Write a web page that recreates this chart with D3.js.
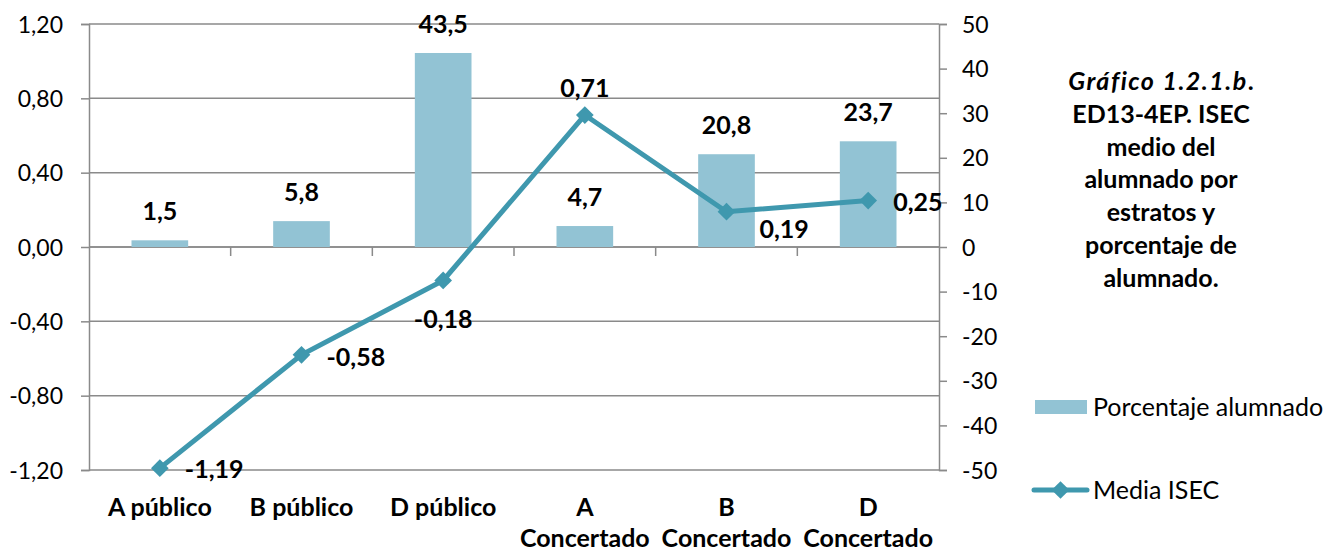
<!DOCTYPE html>
<html>
<head>
<meta charset="utf-8">
<script src="https://cdn.jsdelivr.net/npm/d3@7"></script>
<style>
  body { margin: 0; background: #fff; }
  svg { font-family: Lato, "Open Sans", sans-serif; }
</style>
</head>
<body>
<svg id="chart" width="1341" height="551"></svg>
<script>
// categories and series
const categories = ["A público", "B público", "D público", "A Concertado", "B Concertado", "D Concertado"];
const cat_lines = [["A público"], ["B público"], ["D público"], ["A", "Concertado"], ["B", "Concertado"], ["D", "Concertado"]];
const porcentaje = [1.5, 5.8, 43.5, 4.7, 20.8, 23.7];
const media_isec = [-1.19, -0.58, -0.18, 0.71, 0.19, 0.25];
const left_ticks = [-1.2, -0.8, -0.4, 0, 0.4, 0.8, 1.2];
const right_ticks = [-50, -40, -30, -20, -10, 0, 10, 20, 30, 40, 50];
const title_lines = ["ED13-4EP. ISEC", "medio del", "alumnado por", "estratos y", "porcentaje de", "alumnado."];

const bar_color = "#92c3d4";
const line_color = "#3f98ae";
const grid_color = "#8a8a8a";

const svg = d3.select("#chart");
const margins = {top: 24, bottom: 81, left: 89, right: 402};
const width = 1341, height = 551;
const chart_width = width - margins.left - margins.right;
const chart_height = height - margins.top - margins.bottom;

const chart = svg.append("g")
  .attr("transform", `translate(${margins.left}, ${margins.top})`);

const x_scale = d3.scaleBand()
  .domain(categories)
  .range([0, chart_width]);

const y_left = d3.scaleLinear()
  .domain([-1.2, 1.2])
  .range([chart_height, 0]);

const y_right = d3.scaleLinear()
  .domain([-50, 50])
  .range([chart_height, 0]);

// spanish style numbers: comma decimal, plain hyphen minus
const es = (v, digits) => v.toFixed(digits).replace(".", ",");

const mid = (i) => x_scale(categories[i]) + x_scale.bandwidth() / 2;

// gridlines (left axis)
chart.append("g")
  .selectAll("line")
  .data(left_ticks)
  .enter()
  .append("line")
  .attr("x1", 0)
  .attr("x2", chart_width)
  .attr("y1", d => y_left(d))
  .attr("y2", d => y_left(d))
  .style("stroke", grid_color)
  .style("stroke-width", 1.5);

// left axis
const left_axis = chart.append("g")
  .call(d3.axisLeft(y_left).tickValues(left_ticks).tickSize(8).tickPadding(18)
    .tickFormat(d => es(d, 2)));
left_axis.select(".domain").style("stroke", grid_color).style("stroke-width", 1.5);
left_axis.selectAll(".tick line").style("stroke", grid_color).style("stroke-width", 1.5);
left_axis.selectAll("text")
  .style("font-size", "23px")
  .style("font-family", "Lato, sans-serif")
  .style("fill", "#000")
  .attr("dy", "0.35em");

// right axis
const right_axis = chart.append("g")
  .attr("transform", `translate(${chart_width}, 0)`)
  .call(d3.axisRight(y_right).tickValues(right_ticks).tickSize(8).tickPadding(15)
    .tickFormat(d => String(d)));
right_axis.select(".domain").style("stroke", grid_color).style("stroke-width", 1.5);
right_axis.selectAll(".tick line").style("stroke", grid_color).style("stroke-width", 1.5);
right_axis.selectAll("text")
  .style("font-size", "23px")
  .style("font-family", "Lato, sans-serif")
  .style("fill", "#000")
  .attr("dy", "0.35em");

// category axis on the zero line
const x_axis = chart.append("g")
  .attr("transform", `translate(0, ${y_left(0)})`);
x_axis.append("line")
  .attr("x1", 0).attr("x2", chart_width)
  .style("stroke", grid_color).style("stroke-width", 1.5);
x_axis.selectAll(".cat-tick")
  .data(categories.slice(1))
  .enter()
  .append("line")
  .attr("class", "cat-tick")
  .attr("x1", d => x_scale(d))
  .attr("x2", d => x_scale(d))
  .attr("y1", 0)
  .attr("y2", 9)
  .style("stroke", grid_color)
  .style("stroke-width", 1.5);

// category labels below the plot
const cat_labels = chart.append("g");
cat_lines.forEach((lines, i) => {
  const t = cat_labels.append("text")
    .attr("text-anchor", "middle")
    .attr("x", mid(i))
    .attr("y", chart_height + 46)
    .style("font-size", "25px")
    .style("font-weight", "bold");
  lines.forEach((l, j) => {
    t.append("tspan")
      .attr("x", mid(i))
      .attr("dy", j === 0 ? 0 : 31)
      .text(l);
  });
});

// bars (right axis)
const bar_w = x_scale.bandwidth() * 0.4;
chart.append("g")
  .selectAll("rect")
  .data(porcentaje)
  .enter()
  .append("rect")
  .attr("x", (d, i) => mid(i) - bar_w / 2)
  .attr("y", d => y_right(d))
  .attr("width", bar_w)
  .attr("height", d => y_right(0) - y_right(d))
  .style("fill", bar_color);

chart.append("g")
  .selectAll("text")
  .data(porcentaje)
  .enter()
  .append("text")
  .attr("text-anchor", "middle")
  .attr("x", (d, i) => mid(i))
  .attr("y", d => y_right(d) - 20)
  .style("font-size", "25px")
  .style("font-weight", "bold")
  .text(d => es(d, 1));

// line (left axis)
const line = d3.line()
  .x((d, i) => mid(i))
  .y(d => y_left(d));

chart.append("path")
  .datum(media_isec)
  .attr("d", line)
  .style("fill", "none")
  .style("stroke", line_color)
  .style("stroke-width", 5);

const diamond = d3.symbol().type(d3.symbolDiamond2).size(200);
chart.append("g")
  .selectAll("path")
  .data(media_isec)
  .enter()
  .append("path")
  .attr("d", diamond)
  .attr("transform", (d, i) => `translate(${mid(i)}, ${y_left(d)})`)
  .style("fill", line_color);

// label placement for the line: [dx, dy, anchor]
const line_label_place = [
  [25, 10, "start"],
  [25, 11, "start"],
  [0, 48, "middle"],
  [0, -18, "middle"],
  [33, 26, "start"],
  [25, 10, "start"]
];
chart.append("g")
  .selectAll("text")
  .data(media_isec)
  .enter()
  .append("text")
  .attr("text-anchor", (d, i) => line_label_place[i][2])
  .attr("x", (d, i) => mid(i) + line_label_place[i][0])
  .attr("y", (d, i) => y_left(d) + line_label_place[i][1])
  .style("font-size", "25px")
  .style("font-weight", "bold")
  .text(d => es(d, 2));

// title
const title_x = 1161;
const title = svg.append("text")
  .attr("text-anchor", "middle")
  .attr("x", title_x)
  .attr("y", 90)
  .style("font-size", "25px")
  .style("font-weight", "bold");
const first = title.append("tspan").attr("x", title_x);
first.append("tspan").style("font-style", "italic").style("letter-spacing", "1.5px").text("Gráfico 1.2.1.b");
first.append("tspan").text(".");
title_lines.forEach(l => {
  title.append("tspan").attr("x", title_x).attr("dy", 32.8).text(l);
});

// legend
const legend = svg.append("g").attr("transform", "translate(1035, 407)");
legend.append("rect")
  .attr("x", 0).attr("y", -7)
  .attr("width", 52).attr("height", 14)
  .style("fill", bar_color);
legend.append("text")
  .attr("x", 58).attr("y", 9)
  .style("font-size", "25px")
  .text("Porcentaje alumnado");

const leg2 = svg.append("g").attr("transform", "translate(1034, 490)");
leg2.append("line")
  .attr("x1", 0).attr("x2", 53)
  .style("stroke", line_color)
  .style("stroke-width", 5)
  .style("stroke-linecap", "round");
leg2.append("path")
  .attr("d", diamond)
  .attr("transform", "translate(26.5, 0)")
  .style("fill", line_color);
leg2.append("text")
  .attr("x", 59).attr("y", 9)
  .style("font-size", "25px")
  .text("Media ISEC");
</script>
</body>
</html>
